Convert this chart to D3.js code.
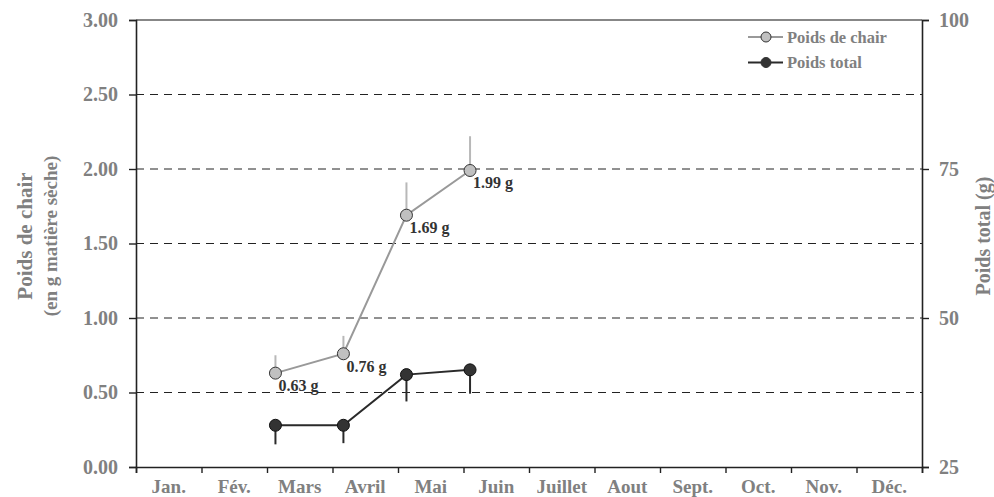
<!DOCTYPE html>
<html>
<head>
<meta charset="utf-8">
<script src="https://cdn.jsdelivr.net/npm/d3@7"></script>
<style>
  body { margin: 0; background: #fff; }
  text { font-family: "Liberation Serif", "Times New Roman", serif; font-weight: bold; }
</style>
</head>
<body>
<script>
var months = ["Jan.", "Fév.", "Mars", "Avril", "Mai", "Juin", "Juillet", "Aout", "Sept.", "Oct.", "Nov.", "Déc."];
var sampleDates = ["2013-03-05", "2013-04-06", "2013-05-05", "2013-06-04"];
var chairValues = [0.63, 0.76, 1.69, 1.99];
var chairErrors = [0.12, 0.12, 0.22, 0.23];
var totalValues = [32.0, 32.0, 40.5, 41.3];
var totalErrors = [3.2, 3.0, 4.5, 4.0];
var leftTicks = [0, 0.5, 1, 1.5, 2, 2.5, 3];
var rightTicks = [25, 50, 75, 100];

var W = 994, H = 497;
var margin = { top: 20, right: 72, bottom: 30, left: 136 },
  width = W - margin.left - margin.right,
  height = H - margin.top - margin.bottom;

// month index + fraction of the month, so every month gets the same width
function monthPos(s) {
  var d = d3.timeParse("%Y-%m-%d")(s);
  var start = d3.timeMonth.floor(d), end = d3.timeMonth.offset(start, 1);
  return d.getMonth() + (d - start) / (end - start);
}

var x = d3.scaleLinear().domain([0, 12]).range([0, width]);
var yL = d3.scaleLinear().domain([0, 3]).range([height, 0]);
var yR = d3.scaleLinear().domain([25, 100]).range([height, 0]);

var chair = sampleDates.map(function (s, i) { return { x: monthPos(s), v: chairValues[i], e: chairErrors[i] }; });
var total = sampleDates.map(function (s, i) { return { x: monthPos(s), v: totalValues[i], e: totalErrors[i] }; });

var svg = d3.select("body").append("svg")
  .attr("width", W).attr("height", H)
  .append("g")
  .attr("transform", "translate(" + margin.left + "," + margin.top + ")");

// dashed grid
svg.append("g").selectAll("line")
  .data(leftTicks.filter(function (t) { return t > 0 && t < 3; }))
  .enter().append("line")
  .attr("x1", 0).attr("x2", width)
  .attr("y1", function (d) { return yL(d); }).attr("y2", function (d) { return yL(d); })
  .attr("stroke", "#222").attr("stroke-width", 1).attr("stroke-dasharray", "8,6");

// top frame
svg.append("line").attr("x1", 0).attr("x2", width).attr("y1", 0).attr("y2", 0)
  .attr("stroke", "#111").attr("stroke-width", 1.2);

// left axis
var gL = svg.append("g").call(d3.axisLeft(yL).tickValues(leftTicks).tickFormat(d3.format(".2f")).tickSize(7).tickPadding(11));
// right axis
var gR = svg.append("g").attr("transform", "translate(" + width + ",0)")
  .call(d3.axisRight(yR).tickValues(rightTicks).tickSize(7).tickPadding(10));
// bottom axis
var gB = svg.append("g").attr("transform", "translate(0," + height + ")")
  .call(d3.axisBottom(x).tickValues(d3.range(13)).tickSize(6).tickFormat(""));

[gL, gR, gB].forEach(function (g) {
  g.select(".domain").attr("stroke", "#222").attr("stroke-width", 1.6);
  g.selectAll(".tick line").attr("stroke", "#222").attr("stroke-width", 1.4);
  g.selectAll(".tick text").attr("fill", "#808080").style("font-size", "20px")
    .style("font-family", "'Liberation Serif', serif").style("font-weight", "bold");
});

// month labels centred in each month
svg.append("g").selectAll("text")
  .data(months).enter().append("text")
  .attr("x", function (d, i) { return x(i + 0.5); })
  .attr("y", height + 26)
  .attr("text-anchor", "middle")
  .attr("fill", "#808080").style("font-size", "19px")
  .text(function (d) { return d; });

// axis titles
svg.append("text")
  .attr("transform", "translate(" + (-104) + "," + (yL(1.55)) + ") rotate(-90)")
  .attr("text-anchor", "middle").attr("fill", "#808080").style("font-size", "21px")
  .text("Poids de chair");
svg.append("text")
  .attr("transform", "translate(" + (-79) + "," + (yL(1.55)) + ") rotate(-90)")
  .attr("text-anchor", "middle").attr("fill", "#808080").style("font-size", "19px")
  .text("(en g matière sèche)");
svg.append("text")
  .attr("transform", "translate(" + (width + 68) + "," + (yL(1.55)) + ") rotate(-90)")
  .attr("text-anchor", "middle").attr("fill", "#808080").style("font-size", "20px")
  .text("Poids total (g)");

// error bars
svg.append("g").selectAll("line").data(chair).enter().append("line")
  .attr("x1", function (d) { return x(d.x); }).attr("x2", function (d) { return x(d.x); })
  .attr("y1", function (d) { return yL(d.v); }).attr("y2", function (d) { return yL(d.v + d.e); })
  .attr("stroke", "#b8b8b8").attr("stroke-width", 2);
svg.append("g").selectAll("line").data(total).enter().append("line")
  .attr("x1", function (d) { return x(d.x); }).attr("x2", function (d) { return x(d.x); })
  .attr("y1", function (d) { return yR(d.v); }).attr("y2", function (d) { return yR(d.v - d.e); })
  .attr("stroke", "#2a2a2a").attr("stroke-width", 2);

// lines
svg.append("path").datum(chair)
  .attr("fill", "none").attr("stroke", "#999").attr("stroke-width", 2)
  .attr("d", d3.line().x(function (d) { return x(d.x); }).y(function (d) { return yL(d.v); }));
svg.append("path").datum(total)
  .attr("fill", "none").attr("stroke", "#2a2a2a").attr("stroke-width", 2)
  .attr("d", d3.line().x(function (d) { return x(d.x); }).y(function (d) { return yR(d.v); }));

// markers
svg.append("g").selectAll("circle").data(chair).enter().append("circle")
  .attr("cx", function (d) { return x(d.x); }).attr("cy", function (d) { return yL(d.v); })
  .attr("r", 6).attr("fill", "#c0c0c0").attr("stroke", "#333").attr("stroke-width", 1);
svg.append("g").selectAll("circle").data(total).enter().append("circle")
  .attr("cx", function (d) { return x(d.x); }).attr("cy", function (d) { return yR(d.v); })
  .attr("r", 6).attr("fill", "#333").attr("stroke", "#111").attr("stroke-width", 1);

// value labels
svg.append("g").selectAll("text").data(chair).enter().append("text")
  .attr("x", function (d) { return x(d.x) + 3; })
  .attr("y", function (d) { return yL(d.v) + 18; })
  .attr("fill", "#333").style("font-size", "16px")
  .text(function (d) { return d3.format(".2f")(d.v) + " g"; });

// legend
var legend = svg.append("g").attr("transform", "translate(" + (width - 174) + ",17)");
var items = [
  { name: "Poids de chair", fill: "#c0c0c0", line: "#999" },
  { name: "Poids total", fill: "#333", line: "#2a2a2a" }
];
var li = legend.selectAll("g").data(items).enter().append("g")
  .attr("transform", function (d, i) { return "translate(0," + (i * 25.5) + ")"; });
li.append("line").attr("x1", 0).attr("x2", 35).attr("y1", 0).attr("y2", 0)
  .attr("stroke", function (d) { return d.line; }).attr("stroke-width", 2);
li.append("circle").attr("cx", 18).attr("cy", 0).attr("r", 5)
  .attr("fill", function (d) { return d.fill; }).attr("stroke", "#333").attr("stroke-width", 1);
li.append("text").attr("x", 39).attr("y", 5.5)
  .attr("fill", "#808080").style("font-size", "16.5px")
  .text(function (d) { return d.name; });
</script>
</body>
</html>
